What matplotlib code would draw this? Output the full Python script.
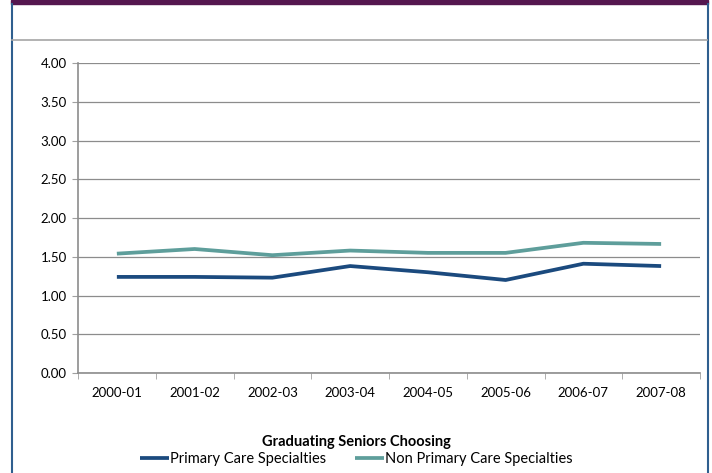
import matplotlib.pyplot as plt
from matplotlib.lines import Line2D
from matplotlib.patches import Rectangle

years = ["2000-01", "2001-02", "2002-03", "2003-04", "2004-05", "2005-06", "2006-07", "2007-08"]
primary_care = [1.24, 1.24, 1.23, 1.38, 1.30, 1.20, 1.41, 1.38]
non_primary_care = [1.54, 1.60, 1.52, 1.58, 1.55, 1.55, 1.68, 1.665]

plt.rcParams['font.family'] = ['Lato', 'DejaVu Sans']

fig = plt.figure(figsize=(7.12, 4.73), dpi=100)
W, H = 712, 473

# frame decorations (purple header, blue side borders, grey separator)
fig.patches.append(Rectangle((11 / W, 1 - 4 / H), (708 - 11) / W, 4 / H,
                             transform=fig.transFigure, color="#55174F", zorder=0))
fig.add_artist(Line2D([11.5 / W, 11.5 / W], [0, 1 - 4 / H], transform=fig.transFigure,
                      color="#2F5F8F", lw=1.5))
fig.add_artist(Line2D([707.5 / W, 707.5 / W], [0, 1 - 4 / H], transform=fig.transFigure,
                      color="#2F5F8F", lw=1.5))
fig.add_artist(Line2D([12 / W, 707 / W], [1 - 40.5 / H, 1 - 40.5 / H], transform=fig.transFigure,
                      color="#A6A6A6", lw=1.2))

ax = fig.add_axes([78 / W, 1 - 373 / H, (700 - 78) / W, (373 - 63) / H])
x = list(range(len(years)))
ax.plot(x, primary_care, color="#1B4A7E", lw=2.7, solid_capstyle="butt", label="Primary Care Specialties")
ax.plot(x, non_primary_care, color="#5E9E9B", lw=2.7, solid_capstyle="butt", label="Non Primary Care Specialties")

ax.set_xlim(-0.5, len(years) - 0.5)
ax.set_ylim(0, 4)
ax.set_yticks([i * 0.5 for i in range(9)])
ax.set_yticklabels([f"{i * 0.5:.2f}" for i in range(9)], fontsize=9.5)
ax.set_xticks(x)
ax.set_xticklabels(years, fontsize=9.5)
ax.set_xticks([i - 0.5 for i in range(len(years) + 1)], minor=True)
ax.tick_params(axis="x", which="major", length=0, pad=10)
ax.tick_params(axis="x", which="minor", length=4, color="#A0A0A0")
ax.tick_params(axis="y", length=4, color="#A0A0A0", pad=4)
ax.grid(axis="y", color="#8C8C8C", lw=0.9)
ax.set_axisbelow(True)
for side in ["top", "right"]:
    ax.spines[side].set_visible(False)
for side in ["left", "bottom"]:
    ax.spines[side].set_color("#8C8C8C")
    ax.spines[side].set_linewidth(1.2)

leg = fig.legend(loc="upper center", bbox_to_anchor=(0.5, 1 - 435 / H), ncol=2, frameon=False,
                 title="Graduating Seniors Choosing", fontsize=10.5, handlelength=2.0,
                 handletextpad=0.05, columnspacing=2.0, borderaxespad=0, borderpad=0,
                 labelspacing=0.2)
leg.get_title().set_fontweight("bold")
leg.get_title().set_fontsize(10.5)

fig.savefig("out.png", dpi=100)
